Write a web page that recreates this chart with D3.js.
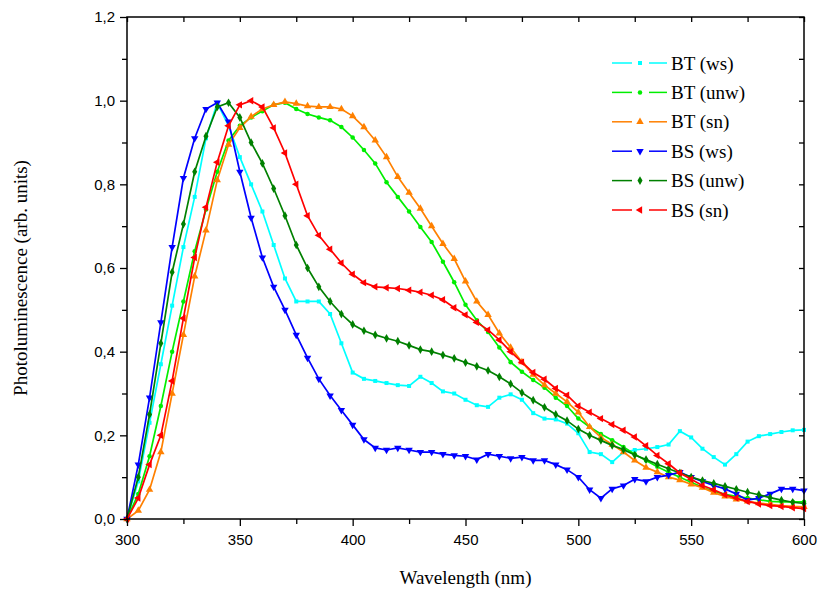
<!DOCTYPE html>
<html>
<head>
<meta charset="utf-8">
<script src="https://cdn.jsdelivr.net/npm/d3@7"></script>
<style>
  body { margin: 0; background: #fff; }
  svg { display: block; }
</style>
</head>
<body>
<svg id="chart" width="819" height="596"></svg>
<script>
// wavelength grid (nm)
const wavelength = d3.range(300, 601, 5);

const btWs = [0.00, 0.09, 0.23, 0.37, 0.51, 0.65, 0.77, 0.91, 0.995, 0.94,
  0.865, 0.80, 0.735, 0.655, 0.575, 0.52, 0.52, 0.52, 0.49, 0.42,
  0.35, 0.335, 0.33, 0.325, 0.32, 0.318, 0.34, 0.325, 0.305, 0.30,
  0.285, 0.272, 0.268, 0.29, 0.298, 0.285, 0.253, 0.24, 0.238, 0.228,
  0.205, 0.16, 0.155, 0.136, 0.16, 0.165, 0.168, 0.172, 0.178, 0.21,
  0.195, 0.168, 0.148, 0.13, 0.155, 0.185, 0.198, 0.203, 0.208, 0.212, 0.213];

const btUnw = [0.00, 0.06, 0.15, 0.27, 0.40, 0.52, 0.64, 0.74, 0.83, 0.905,
  0.94, 0.96, 0.975, 0.99, 0.995, 0.98, 0.968, 0.96, 0.953, 0.937,
  0.912, 0.882, 0.85, 0.805, 0.77, 0.735, 0.698, 0.662, 0.615, 0.566,
  0.512, 0.475, 0.447, 0.41, 0.375, 0.352, 0.332, 0.314, 0.29, 0.27,
  0.24, 0.22, 0.203, 0.188, 0.172, 0.155, 0.14, 0.125, 0.112, 0.10,
  0.088, 0.076, 0.066, 0.059, 0.054, 0.05, 0.046, 0.042, 0.041, 0.041, 0.041];

const btSn = [0.00, 0.02, 0.07, 0.16, 0.30, 0.44, 0.58, 0.69, 0.81, 0.895,
  0.935, 0.962, 0.98, 0.99, 0.997, 0.993, 0.987, 0.985, 0.985, 0.98,
  0.963, 0.937, 0.905, 0.865, 0.818, 0.78, 0.742, 0.70, 0.658, 0.622,
  0.568, 0.52, 0.488, 0.444, 0.41, 0.375, 0.345, 0.32, 0.30, 0.28,
  0.255, 0.22, 0.195, 0.178, 0.16, 0.14, 0.123, 0.112, 0.10, 0.093,
  0.083, 0.075, 0.063, 0.054, 0.047, 0.042, 0.038, 0.035, 0.032, 0.03, 0.029];

const bsWs = [0.00, 0.13, 0.29, 0.47, 0.65, 0.815, 0.91, 0.98, 0.995, 0.95,
  0.83, 0.72, 0.625, 0.555, 0.50, 0.44, 0.385, 0.335, 0.295, 0.26,
  0.225, 0.19, 0.17, 0.165, 0.17, 0.165, 0.16, 0.16, 0.155, 0.152,
  0.15, 0.142, 0.155, 0.15, 0.145, 0.148, 0.14, 0.14, 0.13, 0.118,
  0.10, 0.07, 0.05, 0.072, 0.08, 0.095, 0.09, 0.10, 0.105, 0.112,
  0.10, 0.09, 0.08, 0.072, 0.06, 0.045, 0.05, 0.06, 0.072, 0.072, 0.068];

const bsUnw = [0.00, 0.10, 0.25, 0.42, 0.59, 0.705, 0.83, 0.915, 0.985, 0.995,
  0.96, 0.90, 0.85, 0.79, 0.725, 0.655, 0.60, 0.555, 0.52, 0.49,
  0.465, 0.45, 0.44, 0.432, 0.425, 0.415, 0.405, 0.40, 0.392, 0.384,
  0.374, 0.365, 0.355, 0.34, 0.323, 0.302, 0.284, 0.267, 0.25, 0.235,
  0.215, 0.20, 0.188, 0.176, 0.166, 0.153, 0.142, 0.131, 0.12, 0.11,
  0.10, 0.092, 0.085, 0.078, 0.071, 0.064, 0.058, 0.051, 0.045, 0.04, 0.037];

const bsSn = [0.00, 0.05, 0.13, 0.20, 0.33, 0.48, 0.625, 0.745, 0.853, 0.94,
  0.99, 1.0, 0.985, 0.935, 0.875, 0.80, 0.725, 0.678, 0.645, 0.612,
  0.585, 0.565, 0.555, 0.553, 0.551, 0.547, 0.542, 0.535, 0.524, 0.505,
  0.488, 0.47, 0.452, 0.428, 0.40, 0.375, 0.35, 0.334, 0.312, 0.296,
  0.27, 0.255, 0.24, 0.226, 0.212, 0.196, 0.175, 0.152, 0.132, 0.11,
  0.095, 0.08, 0.07, 0.058, 0.05, 0.042, 0.036, 0.032, 0.03, 0.027, 0.025];

const seriesNames = ["BT (ws)", "BT (unw)", "BT (sn)", "BS (ws)", "BS (unw)", "BS (sn)"];
const seriesValues = [btWs, btUnw, btSn, bsWs, bsUnw, bsSn];
const seriesColors = ["#00ffff", "#00ee00", "#ff8000", "#0000ff", "#008000", "#ff0000"];

const xTicks = [300, 350, 400, 450, 500, 550, 600];
const yTicks = [0, 0.2, 0.4, 0.6, 0.8, 1.0, 1.2];

// plot box
const box = { left: 127, right: 804, top: 17, bottom: 519 };

const svg = d3.select("#chart");
const x = d3.scaleLinear().domain([300, 600]).range([box.left, box.right]);
const y = d3.scaleLinear().domain([0, 1.2]).range([box.bottom, box.top]);

const fmtY = d => d3.format(".1f")(d).replace(".", ",");

// marker shapes
const symbols = [
    d3.symbol().type(d3.symbolSquare).size(16),
    d3.symbol().type(d3.symbolCircle).size(16),
    d3.symbol().type(d3.symbolTriangle).size(24),
    d3.symbol().type(d3.symbolTriangle).size(24),
    d3.symbol().type(d3.symbolDiamond).size(22),
    d3.symbol().type(d3.symbolTriangle).size(24)
];
const rotations = [0, 0, 0, 180, 0, -90];

const line = d3.line()
    .x(d => x(d[0]))
    .y(d => y(d[1]));

const plot = svg.append("g");
seriesValues.forEach((vals, i) => {
    const pts = wavelength.map((w, j) => [w, vals[j]]);
    plot.append("path")
        .datum(pts)
        .attr("fill", "none")
        .attr("stroke", seriesColors[i])
        .attr("stroke-width", 1.7)
        .attr("d", line);
    plot.selectAll(null)
        .data(pts)
        .enter().append("path")
        .attr("d", symbols[i])
        .attr("fill", seriesColors[i])
        .attr("transform", d => `translate(${x(d[0])},${y(d[1])}) rotate(${rotations[i]})`);
});

// axes
const axisFont = "'Liberation Sans', Arial, sans-serif";
const serif = "'Liberation Serif', 'Times New Roman', 'DejaVu Serif', serif";

const minorX = d3.range(325, 600, 50);
const minorY = [0.1, 0.3, 0.5, 0.7, 0.9, 1.1];

function styleAxis(g) {
    g.select(".domain").remove();
    g.selectAll("line").attr("stroke", "#000").attr("stroke-width", 1.3);
    g.selectAll("text").style("font-family", axisFont).style("font-size", "15px").attr("fill", "#000");
}

svg.append("g").attr("transform", `translate(0,${box.bottom})`)
    .call(d3.axisBottom(x).tickValues(xTicks).tickSize(7).tickPadding(8))
    .call(styleAxis);
svg.append("g").attr("transform", `translate(0,${box.bottom})`)
    .call(d3.axisBottom(x).tickValues(minorX).tickSize(5).tickFormat(""))
    .call(styleAxis);
svg.append("g").attr("transform", `translate(0,${box.top})`)
    .call(d3.axisBottom(x).tickValues(xTicks.concat(minorX)).tickSize(5).tickFormat(""))
    .call(styleAxis);

svg.append("g").attr("transform", `translate(${box.left},0)`)
    .call(d3.axisLeft(y).tickValues(yTicks).tickSize(7).tickPadding(5).tickFormat(fmtY))
    .call(styleAxis);
svg.append("g").attr("transform", `translate(${box.left},0)`)
    .call(d3.axisLeft(y).tickValues(minorY).tickSize(5).tickFormat(""))
    .call(styleAxis);
svg.append("g").attr("transform", `translate(${box.right},0)`)
    .call(d3.axisLeft(y).tickValues(yTicks.concat(minorY)).tickSize(5).tickFormat(""))
    .call(styleAxis);

svg.append("rect")
    .attr("x", box.left).attr("y", box.top)
    .attr("width", box.right - box.left).attr("height", box.bottom - box.top)
    .attr("fill", "none").attr("stroke", "#000").attr("stroke-width", 1.5);

svg.append("text")
    .attr("x", (box.left + box.right) / 2).attr("y", 584)
    .attr("text-anchor", "middle")
    .style("font-family", serif).style("font-size", "19px")
    .text("Wavelength (nm)");

svg.append("text")
    .attr("transform", `translate(27,${(box.top + box.bottom) / 2 + 10}) rotate(-90)`)
    .attr("text-anchor", "middle")
    .style("font-family", serif).style("font-size", "19px")
    .text("Photoluminescence (arb. units)");

// legend
const legend = svg.append("g");
seriesNames.forEach((name, i) => {
    const ly = 63 + i * 29.4;
    const g = legend.append("g");
    g.append("line").attr("x1", 612).attr("x2", 632).attr("y1", ly).attr("y2", ly)
        .attr("stroke", seriesColors[i]).attr("stroke-width", 1.5);
    g.append("line").attr("x1", 649).attr("x2", 667).attr("y1", ly).attr("y2", ly)
        .attr("stroke", seriesColors[i]).attr("stroke-width", 1.5);
    g.append("path").attr("d", symbols[i]).attr("fill", seriesColors[i])
        .attr("transform", `translate(640,${ly}) rotate(${rotations[i]})`);
    g.append("text").attr("x", 671).attr("y", ly + 6.5)
        .style("font-family", serif).style("font-size", "19px")
        .text(name);
});
</script>
</body>
</html>
